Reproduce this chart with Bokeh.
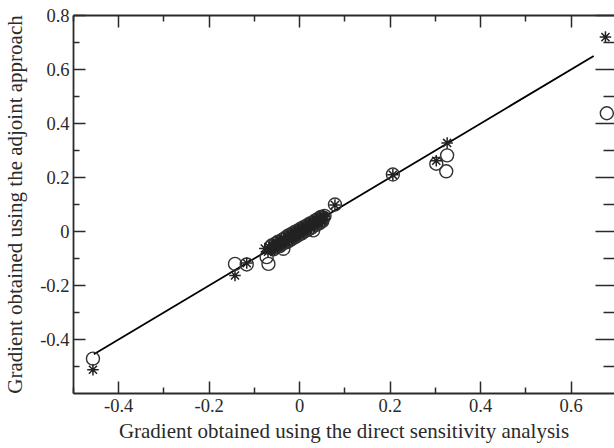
from bokeh.plotting import figure
from bokeh.models import FixedTicker, LinearAxis, CustomJSTickFormatter, Range1d
from bokeh.embed import file_html
from bokeh.resources import INLINE

# ---- data ----
x_circle = [-0.457, -0.143, -0.117, -0.073, -0.069,
            -0.064, -0.058, -0.054, -0.050, -0.046, -0.042, -0.038, -0.036, -0.032,
            -0.028, -0.025, -0.021, -0.018, -0.014, -0.011, -0.007, -0.004, 0.000,
            0.003, 0.007, 0.010, 0.014, 0.017, 0.021, 0.024, 0.028, 0.030, 0.034,
            0.038, 0.041, 0.045, 0.048, 0.052,
            -0.062, -0.056, -0.048, -0.044, -0.040, -0.034, -0.030, -0.026, -0.023,
            -0.019, -0.016, -0.012, -0.009, -0.005, -0.002, 0.002, 0.005, 0.009,
            0.012, 0.016, 0.019, 0.023, 0.026, 0.032, 0.036, 0.040, 0.043, 0.047,
            0.050, 0.055,
            0.078, 0.206, 0.302, 0.326, 0.324, 0.679]
y_circle = [-0.471, -0.120, -0.122, -0.095, -0.120,
            -0.058, -0.066, -0.045, -0.056, -0.040, -0.050, -0.030, -0.064, -0.040,
            -0.020, -0.034, -0.014, -0.028, -0.006, -0.020, -0.001, -0.014, 0.006,
            -0.008, 0.013, 0.000, 0.020, 0.006, 0.026, 0.012, 0.032, 0.004, 0.025,
            0.044, 0.032, 0.050, 0.040, 0.052,
            -0.052, -0.060, -0.038, -0.054, -0.044, -0.026, -0.040, -0.016, -0.034,
            -0.010, -0.026, -0.003, -0.020, 0.003, -0.012, 0.010, -0.006, 0.016,
            0.002, 0.022, 0.008, 0.030, 0.014, 0.038, 0.024, 0.046, 0.030, 0.054,
            0.038, 0.058,
            0.100, 0.211, 0.251, 0.282, 0.223, 0.438]

x_star = [-0.457, -0.143, -0.117,
          -0.077, -0.070, -0.066, -0.062, -0.058, -0.054, -0.050, -0.046, -0.042,
          -0.038, -0.034, -0.030, -0.026, -0.022, -0.018, -0.014, -0.010, -0.006,
          -0.002, 0.002, 0.006, 0.010, 0.014, 0.018, 0.022, 0.026, 0.030, 0.034,
          0.038, 0.042, 0.046, 0.050, 0.054,
          -0.064, -0.060, -0.056, -0.052, -0.048, -0.044, -0.040, -0.036, -0.032,
          -0.028, -0.024, -0.020, -0.016, -0.012, -0.008, -0.004, 0.000, 0.004,
          0.008, 0.012, 0.016, 0.020, 0.024, 0.028, 0.032, 0.036, 0.040, 0.044,
          0.048, 0.052,
          0.078, 0.206, 0.302, 0.326, 0.676]
y_star = [-0.512, -0.163, -0.117,
          -0.063, -0.075, -0.060, -0.066, -0.052, -0.058, -0.045, -0.050, -0.036,
          -0.043, -0.028, -0.035, -0.020, -0.027, -0.012, -0.019, -0.004, -0.011,
          0.003, -0.004, 0.011, 0.004, 0.018, 0.012, 0.026, 0.020, 0.034, 0.028,
          0.042, 0.036, 0.050, 0.044, 0.056,
          -0.070, -0.054, -0.064, -0.044, -0.054, -0.036, -0.048, -0.028, -0.040,
          -0.020, -0.032, -0.012, -0.024, -0.004, -0.016, 0.004, -0.008, 0.012,
          0.000, 0.020, 0.008, 0.028, 0.016, 0.036, 0.024, 0.044, 0.032, 0.052,
          0.040, 0.058,
          0.098, 0.210, 0.262, 0.328, 0.720]

fit_x = [-0.455, 0.65]
fit_y = [-0.455, 0.65]

x_ticks = [-0.4, -0.2, 0, 0.2, 0.4, 0.6]
x_minor = [-0.5, -0.3, -0.1, 0.1, 0.3, 0.5, 0.7]
y_ticks = [-0.4, -0.2, 0, 0.2, 0.4, 0.6, 0.8]
y_minor = [-0.5, -0.3, -0.1, 0.1, 0.3, 0.5, 0.7]

x_label = "Gradient obtained using the direct sensitivity analysis"
y_label = "Gradient obtained using the adjoint approach"

FONT = "Liberation Serif"
INK = "#2a2a2a"

p = figure(width=614, height=448, output_backend="svg", toolbar_location=None,
           x_range=Range1d(-0.5, 0.696), y_range=Range1d(-0.6, 0.8),
           min_border_left=73, min_border_right=0, min_border_top=15,
           min_border_bottom=55, x_axis_label=x_label, y_axis_label=y_label)
p.outline_line_color = None
p.grid.visible = False
p.background_fill_color = "white"
p.border_fill_color = "white"

fmt = CustomJSTickFormatter(code="return (Math.round(tick*10)/10).toString();")
blank = CustomJSTickFormatter(code="return '';")


def style(ax, ticks, minor, labels=True):
    ax.ticker = FixedTicker(ticks=ticks, minor_ticks=minor)
    ax.major_tick_in = 12
    ax.major_tick_out = 0
    ax.minor_tick_in = 6
    ax.minor_tick_out = 0
    ax.major_tick_line_color = INK
    ax.minor_tick_line_color = INK
    ax.major_tick_line_width = 1.5
    ax.minor_tick_line_width = 1.5
    ax.axis_line_color = INK
    ax.axis_line_width = 1.8
    if labels:
        ax.formatter = fmt
        ax.major_label_text_font = FONT
        ax.major_label_text_font_size = "18.5px"
        ax.major_label_text_color = INK
        ax.axis_label_text_font = FONT
        ax.axis_label_text_font_size = "21px"
        ax.axis_label_text_font_style = "normal"
        ax.axis_label_text_color = INK
    else:
        ax.formatter = blank
        ax.major_label_text_font_size = "0px"
        ax.major_label_standoff = 0


style(p.xaxis[0], x_ticks, x_minor)
p.xaxis[0].major_label_standoff = 5
p.xaxis[0].axis_label_standoff = 4
style(p.yaxis[0], y_ticks, y_minor)
p.yaxis[0].major_label_standoff = 4
p.yaxis[0].axis_label_standoff = 10

top = LinearAxis()
style(top, x_ticks, x_minor, labels=False)
p.add_layout(top, "above")

right = LinearAxis()
style(right, y_ticks, y_minor, labels=False)
right.axis_line_color = None
right.major_tick_in = 19
right.minor_tick_in = 11
p.add_layout(right, "right")

p.line(fit_x, fit_y, line_color="black", line_width=1.8)
p.scatter(x_circle, y_circle, marker="circle", size=13, fill_color=None,
          line_color="#333333", line_width=1.4)
p.scatter(x_star, y_star, marker="asterisk", size=11.5,
          line_color="#222222", line_width=1.5)

open("out.html", "w").write(file_html(p, INLINE))
